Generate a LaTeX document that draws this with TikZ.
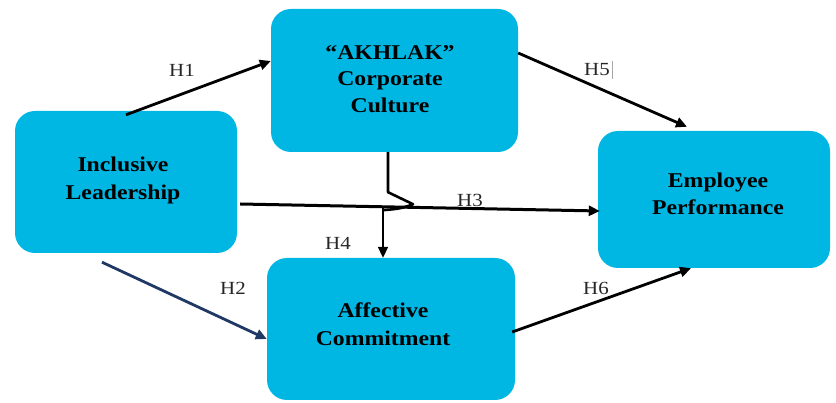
\documentclass[tikz,border=0pt]{standalone}
\usepackage{fontspec}
\usetikzlibrary{arrows.meta}
\newfontfamily\dfont{Liberation Serif}[FakeStretch=1.13,Ligatures=TeX]
\definecolor{boxcyan}{RGB}{0,183,227}
\definecolor{navy}{RGB}{31,56,100}
\tikzset{
  box/.style={fill=boxcyan, rounded corners=20pt, inner sep=0pt, draw=none},
  btext/.style={anchor=base, inner sep=0pt, font=\dfont\bfseries\fontsize{21}{25}\selectfont},
  hlbl/.style={inner sep=0pt, font=\dfont\fontsize{18.5}{22}\selectfont, text=black!85},
  arr/.style={line width=2.8pt, -{Triangle[length=11pt,width=10pt]}},
}
\begin{document}
\begin{tikzpicture}[x=1pt,y=-1pt]
\useasboundingbox (0,0) rectangle (836,403);
% boxes
\node[box, minimum width=222pt, minimum height=142pt] (il) at (126,182) {};
\node[box, minimum width=247pt, minimum height=143pt] (akh) at (394.5,80.5) {};
\node[box, minimum width=232pt, minimum height=137pt] (ep) at (714,199.5) {};
\node[box, minimum width=248pt, minimum height=142pt] (ac) at (391,329) {};
% box texts
\node[btext] (il1) at (123,172) {Inclusive};
\node[btext] (il2) at (123,200) {Leadership};
\node[btext] (ak1) at (390,60) {“AKHLAK”};
\node[btext] (ak2) at (390,86) {Corporate};
\node[btext] (ak3) at (390,113) {Culture};
\node[btext] (ep1) at (718,188) {Employee};
\node[btext] (ep2) at (718,215) {Performance};
\node[btext] (ac1) at (383,318) {Affective};
\node[btext] (ac2) at (383,346) {Commitment};
% arrows
\draw[arr] ([yshift=-4pt]il.north) -- ([yshift=19.5pt]akh.west);
\draw[arr, draw=navy, fill=navy] ([xshift=-24pt,yshift=-9pt]il.south) -- ([yshift=-10pt]ac.west);
\draw[arr, line width=3pt] ([xshift=3pt,yshift=-22pt]il.east) -- ([xshift=2pt,yshift=-11.5pt]ep.west);
\draw[arr] ([yshift=27.5pt]akh.east) -- ([xshift=-27pt,yshift=4pt]ep.north);
\draw[arr] ([xshift=-3pt,yshift=-3pt]ac.east) -- ([xshift=-23pt]ep.south);
\draw[line width=2.6pt, line join=round] ([xshift=-6.5pt]akh.south) -- ++(0,40) -- ++(25,12)
   .. controls +(-12,5) and +(10,-1) .. ++(-30,6);
\coordinate (h4s) at (383,208);
\draw[line width=2pt, -{Triangle[length=11pt,width=10pt]}] (h4s) -- ([xshift=-8pt]ac.north);
% labels
\node[hlbl] (h1) at (182,70) {H1};
\node[hlbl] (h2) at (233,288) {H2};
\node[hlbl] (h3) at (470,200) {H3};
\node[hlbl] (h4) at (338,243) {H4};
\node[hlbl] (h5) at (597,70) {H5};
\draw[gray!70, line width=0.6pt] ([xshift=2.5pt,yshift=9pt]h5.east) -- ([xshift=2.5pt,yshift=-9pt]h5.east);
\node[hlbl] (h6) at (596,288) {H6};
\end{tikzpicture}
\end{document}
